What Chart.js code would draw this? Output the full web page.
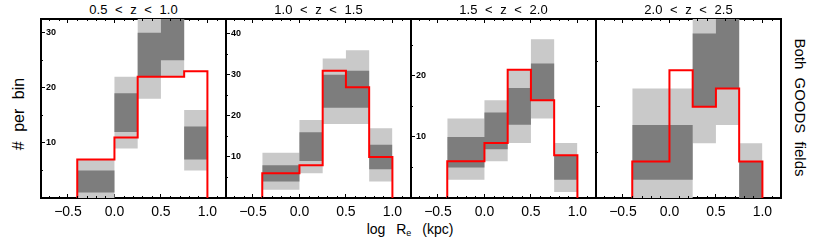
<!DOCTYPE html>
<html>
<head>
<meta charset="utf-8">
<script src="https://cdn.jsdelivr.net/npm/chart.js@4.4.0/dist/chart.umd.min.js"></script>
<style>
  body { margin: 0; background: #fff; }
  #wrap { position: relative; width: 830px; height: 242px; overflow: hidden; font-family: "Liberation Sans", Arial, sans-serif; color: #000; }
  #wrap canvas { position: absolute; top: 0; }
  .ttl { position: absolute; top: 3px; width: 185px; text-align: center; font-size: 13px; line-height: 13px; word-spacing: 4px; white-space: nowrap; }
  .lbl { position: absolute; white-space: nowrap; }
  #xlab { left: 310px; top: 222px; width: 200px; text-align: center; font-size: 14px; line-height: 14px; word-spacing: 7px; }
  #xlab sub { font-size: 9px; vertical-align: -2px; }
  #ylab { left: -31px; top: 106px; width: 100px; text-align: center; font-size: 16px; line-height: 16px; word-spacing: 5px; transform: rotate(-90deg); }
  #rlab { left: 730px; top: 100px; width: 140px; text-align: center; font-size: 15px; line-height: 15px; word-spacing: 4px; transform: rotate(90deg); }
</style>
</head>
<body>
<div id="wrap">
  <div class="lbl" id="xlab">log R<sub>e</sub> (kpc)</div>
  <div class="lbl" id="ylab"># per bin</div>
  <div class="lbl" id="rlab">Both GOODS fields</div>
</div>
<script>
// bins in log Re
var binEdges = [-0.4, 0.0, 0.25, 0.5, 0.75, 1.0];
var panelTitles = ['0.5 < z < 1.0', '1.0 < z < 1.5', '1.5 < z < 2.0', '2.0 < z < 2.5'];

// observed counts (red histogram)
var countsObs = [
  [7, 11, 22, 22, 23],
  [6, 8, 31, 27, 10],
  [6, 9, 21, 16, 7],
  [4, 14, 10, 12, 4]
];
// inner (dark) range
var darkLo = [
  [1, 12, 22, 25, 7],
  [4, 9, 22, 22, 7],
  [5, 8, 12, 16, 3],
  [2, 2, 10, 12, 0]
];
var darkHi = [
  [5, 19, 30, 34, 13],
  [8, 16, 30, 31, 13],
  [10, 14, 18, 22, 7],
  [8, 8, 18, 22, 4]
];
// outer (light) range
var lightLo = [
  [0, 9, 18, 22, 5],
  [2, 6, 18, 18, 4],
  [3, 6, 9, 13, 1],
  [0, 0, 6, 8, 0]
];
var lightHi = [
  [7, 22, 34, 34, 16],
  [11, 19, 34, 36, 17],
  [13, 16, 21, 26, 9],
  [12, 12, 22, 22, 6]
];

var yMax = [32.5, 43.6, 29.3, 19.6];
var yTicks = [[10, 20, 30], [10, 20, 30, 40], [10, 20], [10]];
var yLabelsShown = [true, true, true, false];
var xTicks = [-0.5, 0.0, 0.5, 1.0];
var xMin = -0.79, xMax = 1.2;

var boxLeft = [41, 226, 411, 596];
var boxW = 185, pad = 8;

function stepPoints(vals) {
  var pts = [];
  for (var i = 0; i < vals.length; i++) pts.push({ x: binEdges[i], y: vals[i] });
  pts.push({ x: binEdges[binEdges.length - 1], y: vals[vals.length - 1] });
  return pts;
}

function histPoints(vals) {
  var pts = [{ x: binEdges[0], y: 0 }];
  for (var i = 0; i < vals.length; i++) pts.push({ x: binEdges[i], y: vals[i] });
  pts.push({ x: binEdges[binEdges.length - 1], y: 0 });
  return pts;
}

function fmtX(v) {
  var s = Number(v).toFixed(1);
  return s.charAt(0) === '-' ? '\u2212' + s.slice(1) : s;
}

// minor ticks, drawn on the scales
var minorTicks = {
  id: 'minorTicks',
  afterDraw: function (chart) {
    var ctx = chart.ctx, a = chart.chartArea;
    var sx = chart.scales.x, sy = chart.scales.y;
    ctx.save();
    ctx.strokeStyle = '#000';
    ctx.lineWidth = 1;
    ctx.beginPath();
    for (var k = -7; k <= 12; k++) {
      if (k % 5 === 0) continue;
      var px = Math.round(sx.getPixelForValue(k / 10)) + 0.5;
      ctx.moveTo(px, a.bottom); ctx.lineTo(px, a.bottom - 2);
      ctx.moveTo(px, a.top); ctx.lineTo(px, a.top + 2);
    }
    for (var v = 5; v < sy.max; v += 10) {
      var py = Math.round(sy.getPixelForValue(v)) + 0.5;
      ctx.moveTo(a.left, py); ctx.lineTo(a.left + 2, py);
    }
    ctx.stroke();
    ctx.restore();
  }
};

var wrap = document.getElementById('wrap');

for (var p = 0; p < 4; p++) {
  var t = document.createElement('div');
  t.className = 'ttl';
  t.style.left = boxLeft[p] + 'px';
  t.textContent = panelTitles[p];
  wrap.appendChild(t);

  var cv = document.createElement('canvas');
  cv.width = boxW + 2 * pad;
  cv.height = 242;
  cv.style.left = (boxLeft[p] - pad) + 'px';
  wrap.appendChild(cv);

  (function (p) {
    new Chart(cv, {
      type: 'line',
      data: {
        datasets: [
          { data: histPoints(countsObs[p]), stepped: true, borderColor: '#ff0000', borderWidth: 2, pointRadius: 0, fill: false },
          { data: stepPoints(darkHi[p]), stepped: true, borderColor: 'rgba(0,0,0,0)', borderWidth: 0, pointRadius: 0, fill: '+1', backgroundColor: '#7d7d7d' },
          { data: stepPoints(darkLo[p]), stepped: true, borderColor: 'rgba(0,0,0,0)', borderWidth: 0, pointRadius: 0, fill: false },
          { data: stepPoints(lightHi[p]), stepped: true, borderColor: 'rgba(0,0,0,0)', borderWidth: 0, pointRadius: 0, fill: '+1', backgroundColor: '#c9c9c9' },
          { data: stepPoints(lightLo[p]), stepped: true, borderColor: 'rgba(0,0,0,0)', borderWidth: 0, pointRadius: 0, fill: false }
        ]
      },
      options: {
        responsive: false,
        animation: false,
        events: [],
        layout: { padding: { left: pad, right: pad, top: 19, bottom: 18 } },
        plugins: { legend: { display: false }, tooltip: { enabled: false } },
        scales: {
          x: {
            type: 'linear', position: 'bottom', min: xMin, max: xMax,
            afterBuildTicks: function (s) { s.ticks = xTicks.map(function (v) { return { value: v }; }); },
            afterFit: function (s) { s.height = 26; },
            grid: { drawOnChartArea: false, tickLength: -4, tickColor: '#000', tickWidth: 1 },
            border: { color: '#000', width: 2 },
            ticks: { color: '#000', padding: 10, maxRotation: 0, font: { family: 'Liberation Sans', size: 14 }, callback: function (v) { return fmtX(v); } }
          },
          x2: {
            type: 'linear', position: 'top', min: xMin, max: xMax,
            afterBuildTicks: function (s) { s.ticks = xTicks.map(function (v) { return { value: v }; }); },
            afterFit: function (s) { s.height = 0; },
            grid: { drawOnChartArea: false, tickLength: -4, tickColor: '#000', tickWidth: 1 },
            border: { color: '#000', width: 2 },
            ticks: { display: false }
          },
          y: {
            type: 'linear', position: 'left', min: 0, max: yMax[p],
            afterBuildTicks: function (s) { s.ticks = yTicks[p].map(function (v) { return { value: v }; }); },
            afterFit: function (s) { s.width = 0; },
            grid: { drawOnChartArea: false, tickLength: -4, tickColor: '#000', tickWidth: 1 },
            border: { color: '#000', width: 2 },
            ticks: { mirror: true, padding: 5, color: '#000', font: { family: 'Liberation Sans', size: 9, weight: 'bold' },
              callback: function (v) { return yLabelsShown[p] ? String(v) : ''; } }
          },
          y2: {
            type: 'linear', position: 'right', min: 0, max: yMax[p],
            afterFit: function (s) { s.width = 0; },
            grid: { display: true, drawOnChartArea: false, drawTicks: false },
            border: { color: '#000', width: 2 },
            ticks: { display: false }
          }
        }
      },
      plugins: [minorTicks]
    });
  })(p);
}
</script>
</body>
</html>
